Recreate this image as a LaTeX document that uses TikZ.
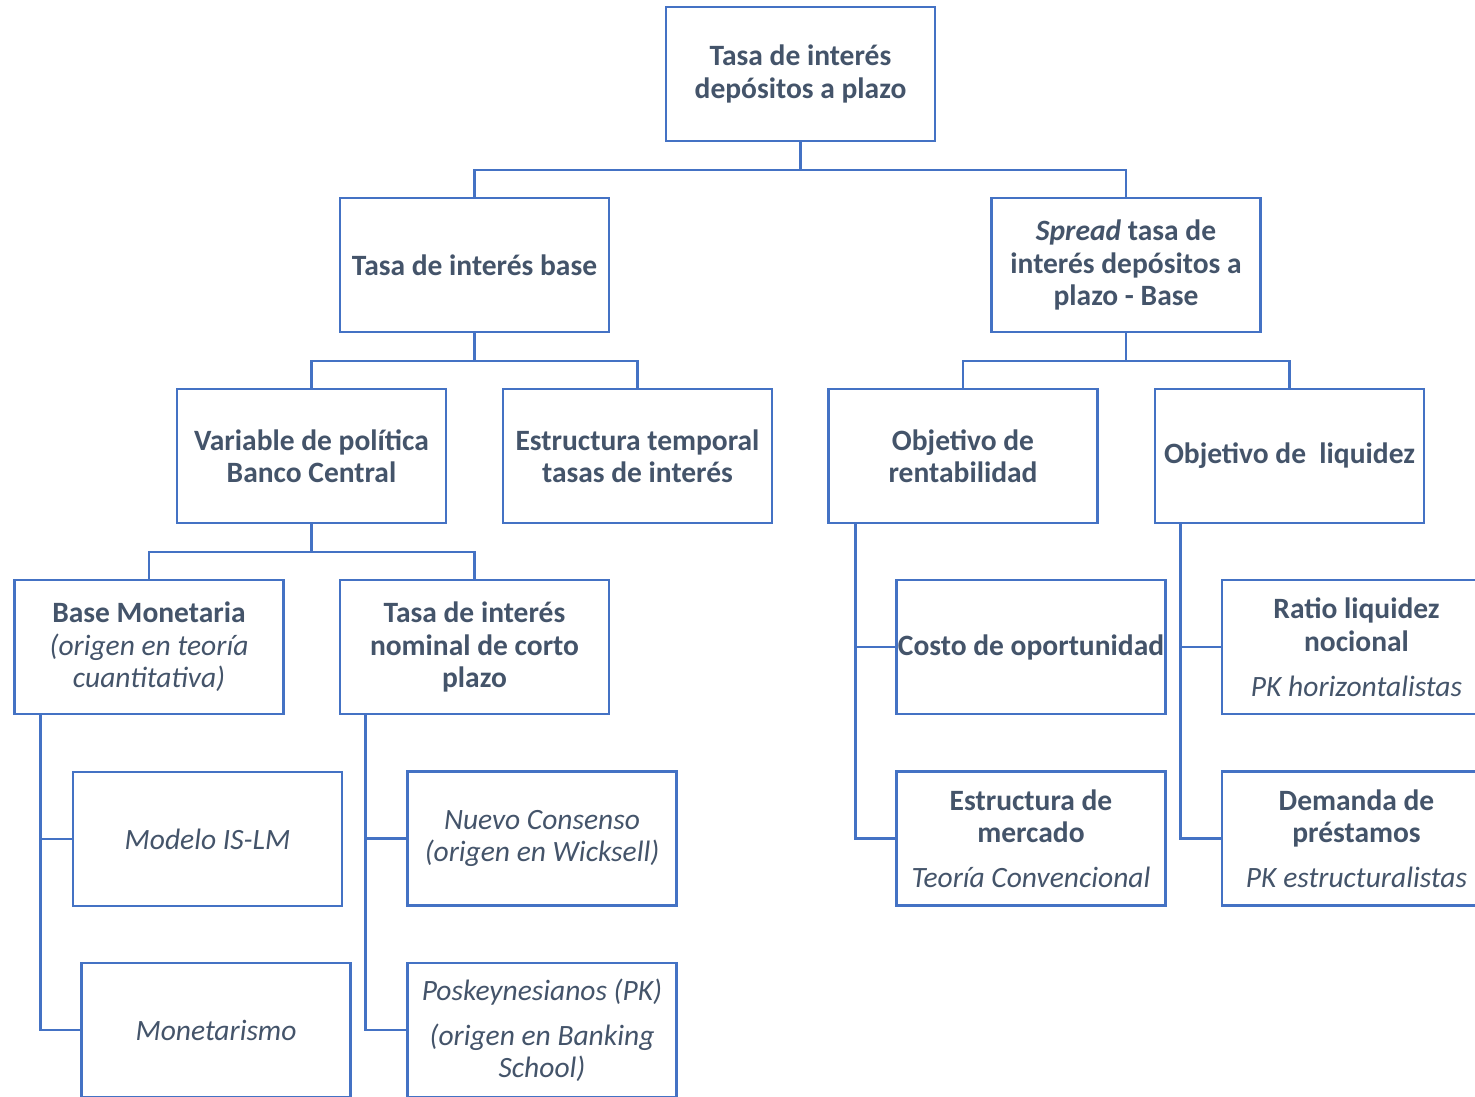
\documentclass[tikz,border=0pt]{standalone}
\usepackage{fontspec}
\setmainfont{Carlito}

\definecolor{boxline}{HTML}{4472C4}
\definecolor{boxtext}{HTML}{44546A}

\tikzset{
  caja/.style={draw=boxline, line width=2.6pt, minimum width=269pt, minimum height=134pt,
    inner sep=1pt, align=center, text=boxtext, font=\fontsize{29.5}{32.5}\selectfont\bfseries},
  cursiva/.style={caja, font=\fontsize{29.5}{32.5}\selectfont\mdseries\itshape},
  rama/.style={draw=boxline, line width=2.6pt},
}

\begin{document}
\begin{tikzpicture}[x=1pt, y=-1pt]
      \clip (0,0) rectangle (1475,1096);
      \fill[white] (0,0) rectangle (1475,1096);
      % niveles superiores
      \node[caja] (tasa) at (800.5,74) {Tasa de interés\\depósitos a plazo};
      \node[caja] (base) at (474.5,265) {Tasa de interés base};
      \node[caja] (spread) at (1126,265) {\textit{Spread} tasa de\\interés depósitos a\\plazo - Base};
      \node[caja] (polit) at (311.5,456) {Variable de política\\Banco Central};
      \node[caja] (estr) at (637.5,456) {Estructura temporal\\tasas de interés};
      \node[caja] (rent) at (963,456) {Objetivo de\\rentabilidad};
      \node[caja] (liq) at (1289.5,456) {Objetivo de\ \ liquidez};
      \node[caja] (bmon) at (149,647) {Base Monetaria\\{\mdseries\itshape (origen en teoría}\\{\mdseries\itshape cuantitativa)}};
      \node[caja] (nom) at (474.5,647) {Tasa de interés\\nominal de corto\\plazo};
      % escuelas
      \node[cursiva] (islm) at (207.5,839) {Modelo IS-LM};
      \node[cursiva] (monet) at (216,1030) {Monetarismo};
      \node[cursiva] (nuevo) at (542,838.5) {Nuevo Consenso\\(origen en Wicksell)};
      \node[cursiva] (posk) at (542,1030) {Poskeynesianos (PK)\\[12.5pt](origen en Banking\\School)};
      \node[caja] (costo) at (1031,647) {Costo de oportunidad};
      \node[caja] (merc) at (1031,838.5) {Estructura de\\mercado\\[12.5pt]{\mdseries\itshape Teoría Convencional}};
      \node[caja] (ratio) at (1356.5,647) {Ratio liquidez\\nocional\\[12.5pt]{\mdseries\itshape PK horizontalistas}};
      \node[caja] (dem) at (1356.5,838.5) {Demanda de\\préstamos\\[12.5pt]{\mdseries\itshape PK estructuralistas}};
      % ramas
      \coordinate (j1) at (800.5,170);
      \coordinate (j2) at (474.5,361);
      \coordinate (j3) at (1126,361);
      \coordinate (j4) at (311.5,552);
      \draw[rama] (tasa.south) -- (j1) -| (base.north);
      \draw[rama] (j1) -| (spread.north);
      \draw[rama] (base.south) -- (j2) -| (polit.north);
      \draw[rama] (j2) -| (estr.north);
      \draw[rama] (spread.south) -- (j3) -| (rent.north);
      \draw[rama] (j3) -| (liq.north);
      \draw[rama] (polit.south) -- (j4) -| (bmon.north);
      \draw[rama] (j4) -| (nom.north);
      \draw[rama] ([xshift=27pt]bmon.south west) |- (islm.west);
      \draw[rama] ([xshift=27pt]bmon.south west) |- (monet.west);
      \draw[rama] ([xshift=27pt]nom.south west) |- (nuevo.west);
      \draw[rama] ([xshift=27pt]nom.south west) |- (posk.west);
      \draw[rama] ([xshift=28pt]rent.south west) |- (costo.west);
      \draw[rama] ([xshift=28pt]rent.south west) |- (merc.west);
      \draw[rama] ([xshift=27pt]liq.south west) |- (ratio.west);
      \draw[rama] ([xshift=27pt]liq.south west) |- (dem.west);
\end{tikzpicture}
\end{document}
